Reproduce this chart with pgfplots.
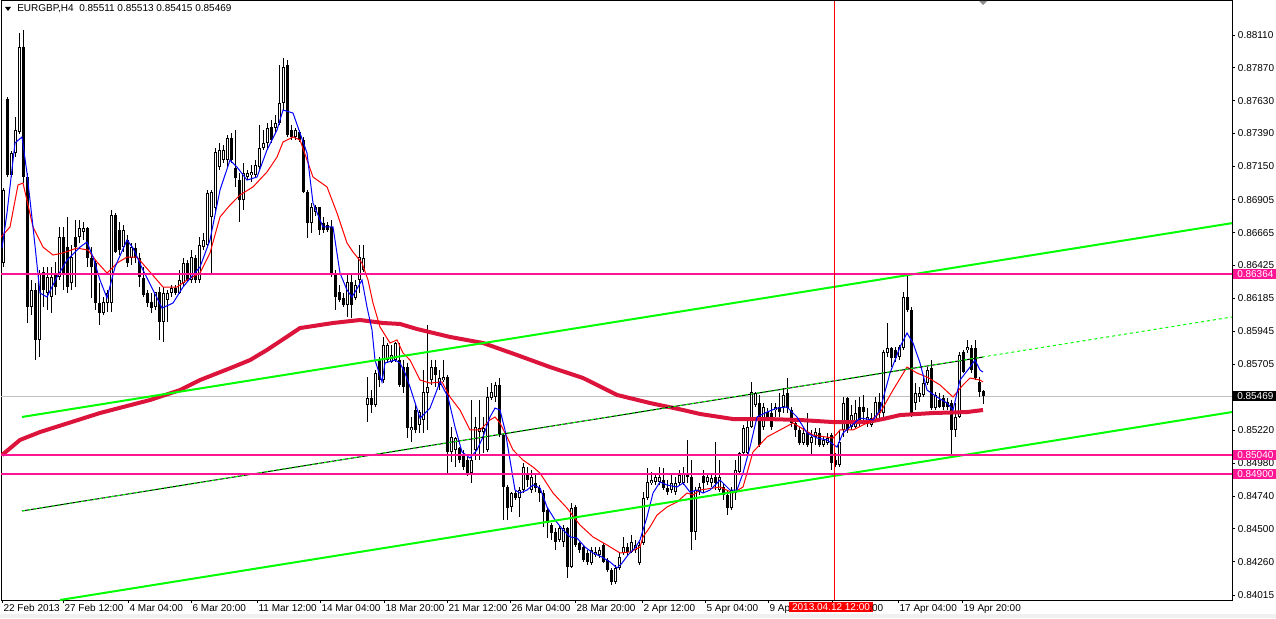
\documentclass[border=0pt]{standalone}
\usepackage{pgfplots}
\pgfplotsset{compat=1.18}
\usepackage{pgfplotstable}
\usepackage{fontspec}
\setmainfont{Liberation Sans}
\definecolor{mtpink}{RGB}{255,20,147}
\definecolor{mtcrimson}{RGB}{220,20,60}
\definecolor{mtgreen}{RGB}{0,255,0}
\definecolor{mtgray}{RGB}{192,192,192}
\definecolor{mtblue}{RGB}{0,0,255}
\definecolor{mtred}{RGB}{255,0,0}

\pgfplotstableread{
x o h l c
3 0.86443 0.86992 0.86414 0.86977
7 0.87642 0.87657 0.87072 0.87087
11 0.87087 0.87262 0.87072 0.87248
15 0.87248 0.87511 0.87218 0.87416
19 0.87401 0.88125 0.87386 0.88022
23 0.88022 0.88147 0.87028 0.87072
27 0.87072 0.87101 0.86005 0.86122
31 0.86122 0.86319 0.86063 0.86246
35 0.86246 0.86297 0.85734 0.85881
39 0.85881 0.86392 0.85756 0.86370
43 0.86378 0.86414 0.86122 0.86246
47 0.86224 0.86414 0.86100 0.86341
51 0.86195 0.86414 0.86078 0.86341
55 0.86370 0.86451 0.86209 0.86268
59 0.86341 0.86707 0.86319 0.86633
63 0.86633 0.86707 0.86246 0.86370
67 0.86560 0.86780 0.86224 0.86268
71 0.86297 0.86575 0.86246 0.86487
75 0.86633 0.86758 0.86268 0.86560
79 0.86633 0.86758 0.86590 0.86699
83 0.86670 0.86743 0.86612 0.86699
87 0.86699 0.86707 0.86414 0.86480
91 0.86480 0.86560 0.86188 0.86414
95 0.86443 0.86465 0.86100 0.86151
99 0.86151 0.86297 0.85990 0.86078
103 0.86078 0.86195 0.86063 0.86158
107 0.86151 0.86246 0.86085 0.86224
111 0.86151 0.86831 0.86085 0.86794
115 0.86794 0.86809 0.86517 0.86524
119 0.86685 0.86743 0.86502 0.86538
123 0.86560 0.86721 0.86524 0.86685
127 0.86612 0.86648 0.86414 0.86443
131 0.86480 0.86590 0.86429 0.86560
135 0.86553 0.86590 0.86443 0.86480
139 0.86480 0.86517 0.86268 0.86341
143 0.86334 0.86414 0.86195 0.86209
147 0.86224 0.86246 0.86122 0.86151
151 0.86158 0.86224 0.86078 0.86114
155 0.86122 0.86231 0.86100 0.86231
159 0.86231 0.86268 0.85881 0.86012
163 0.86012 0.86268 0.85866 0.86224
167 0.86173 0.86246 0.86012 0.86224
171 0.86224 0.86283 0.86195 0.86261
175 0.86261 0.86283 0.86209 0.86224
179 0.86224 0.86392 0.86217 0.86319
183 0.86297 0.86480 0.86268 0.86443
187 0.86443 0.86465 0.86305 0.86319
191 0.86319 0.86538 0.86297 0.86487
195 0.86480 0.86502 0.86297 0.86319
199 0.86319 0.86633 0.86297 0.86575
203 0.86560 0.86663 0.86538 0.86612
207 0.86575 0.86977 0.86560 0.86955
211 0.86780 0.86977 0.86370 0.86963
215 0.86845 0.87284 0.86809 0.87255
219 0.87145 0.87321 0.87123 0.87270
223 0.87196 0.87306 0.87175 0.87270
227 0.87196 0.87379 0.87145 0.87357
231 0.87357 0.87394 0.87175 0.87196
235 0.87138 0.87416 0.87000 0.87065
239 0.87050 0.87101 0.86743 0.86904
243 0.86904 0.87175 0.86831 0.87101
247 0.87072 0.87123 0.87050 0.87101
251 0.87087 0.87160 0.87036 0.87109
255 0.87087 0.87196 0.87072 0.87160
259 0.87145 0.87452 0.87123 0.87284
263 0.87284 0.87416 0.87270 0.87321
267 0.87321 0.87467 0.87270 0.87430
271 0.87438 0.87489 0.87321 0.87343
275 0.87430 0.87525 0.87401 0.87467
279 0.87467 0.87891 0.87452 0.87613
283 0.87613 0.87942 0.87562 0.87876
287 0.87891 0.87927 0.87365 0.87379
291 0.87416 0.87452 0.87343 0.87365
295 0.87365 0.87430 0.87343 0.87416
299 0.87401 0.87416 0.87328 0.87343
303 0.87343 0.87365 0.86955 0.86963
307 0.86963 0.86977 0.86626 0.86736
311 0.86736 0.86882 0.86663 0.86853
315 0.86816 0.86867 0.86787 0.86853
319 0.86853 0.86853 0.86648 0.86685
323 0.86736 0.86780 0.86663 0.86685
327 0.86721 0.86743 0.86670 0.86685
331 0.86707 0.86758 0.86341 0.86370
335 0.86370 0.86392 0.86100 0.86195
339 0.86231 0.86283 0.86158 0.86173
343 0.86188 0.86224 0.86122 0.86136
347 0.86136 0.86370 0.86049 0.86305
351 0.86305 0.86356 0.86041 0.86136
355 0.86188 0.86319 0.86173 0.86283
359 0.86319 0.86575 0.86224 0.86487
363 0.86392 0.86575 0.86378 0.86480
367 0.85405 0.85610 0.85281 0.85457
371 0.85457 0.85515 0.85347 0.85405
375 0.85405 0.85661 0.85391 0.85639
379 0.85734 0.85756 0.85537 0.85588
383 0.85588 0.85903 0.85566 0.85844
387 0.85734 0.85859 0.85713 0.85844
391 0.85720 0.85844 0.85713 0.85771
395 0.85734 0.85866 0.85720 0.85859
399 0.85734 0.85859 0.85537 0.85552
403 0.85683 0.85734 0.85493 0.85537
407 0.85683 0.85713 0.85164 0.85237
411 0.85223 0.85318 0.85135 0.85245
415 0.85369 0.85405 0.85201 0.85223
419 0.85259 0.85369 0.85201 0.85354
423 0.85296 0.85661 0.85201 0.85500
427 0.85493 0.85990 0.85223 0.85537
431 0.85588 0.85734 0.85552 0.85683
435 0.85683 0.85734 0.85537 0.85625
439 0.85552 0.85661 0.85515 0.85603
443 0.85588 0.85734 0.85574 0.85610
447 0.85610 0.85625 0.84908 0.85062
451 0.85062 0.85245 0.84989 0.85172
455 0.85077 0.85172 0.84952 0.85164
459 0.85091 0.85098 0.84982 0.85003
463 0.85040 0.85077 0.84930 0.84952
467 0.85003 0.85025 0.84886 0.84908
471 0.84908 0.85442 0.84835 0.85003
475 0.85077 0.85318 0.85003 0.85245
479 0.85208 0.85442 0.85003 0.85237
483 0.85208 0.85318 0.85055 0.85237
487 0.85077 0.85537 0.85062 0.85464
491 0.85457 0.85566 0.85442 0.85500
495 0.85464 0.85574 0.85427 0.85552
499 0.85552 0.85603 0.85172 0.85186
503 0.85186 0.85201 0.84565 0.84806
507 0.84806 0.84821 0.84565 0.84652
511 0.84660 0.84769 0.84623 0.84762
515 0.84762 0.84784 0.84711 0.84726
519 0.84726 0.84806 0.84587 0.84784
523 0.84784 0.84982 0.84762 0.84952
527 0.84908 0.84952 0.84806 0.84857
531 0.84784 0.84930 0.84762 0.84879
535 0.84835 0.84894 0.84769 0.84799
539 0.84799 0.84821 0.84696 0.84762
543 0.84762 0.84784 0.84514 0.84623
547 0.84638 0.84660 0.84433 0.84543
551 0.84528 0.84543 0.84419 0.84470
555 0.84477 0.84506 0.84345 0.84404
559 0.84419 0.84528 0.84404 0.84506
563 0.84404 0.84528 0.84367 0.84506
567 0.84506 0.84514 0.84141 0.84221
571 0.84221 0.84689 0.84214 0.84652
575 0.84660 0.84674 0.84367 0.84382
579 0.84397 0.84404 0.84324 0.84345
583 0.84367 0.84382 0.84258 0.84272
587 0.84324 0.84345 0.84236 0.84258
591 0.84250 0.84367 0.84236 0.84345
595 0.84309 0.84367 0.84294 0.84331
599 0.84309 0.84367 0.84287 0.84345
603 0.84382 0.84397 0.84250 0.84258
607 0.84272 0.84287 0.84185 0.84199
611 0.84199 0.84214 0.84090 0.84112
615 0.84112 0.84236 0.84097 0.84214
619 0.84214 0.84324 0.84199 0.84294
623 0.84324 0.84441 0.84309 0.84367
627 0.84367 0.84397 0.84309 0.84331
631 0.84331 0.84455 0.84324 0.84404
635 0.84345 0.84419 0.84324 0.84382
639 0.84250 0.84404 0.84236 0.84382
643 0.84397 0.84769 0.84382 0.84726
647 0.84726 0.84945 0.84711 0.84843
651 0.84835 0.84916 0.84821 0.84857
655 0.84843 0.84908 0.84821 0.84879
659 0.84843 0.84952 0.84821 0.84879
663 0.84857 0.84945 0.84784 0.84799
667 0.84799 0.84857 0.84748 0.84769
671 0.84784 0.84908 0.84762 0.84835
675 0.84769 0.84879 0.84748 0.84835
679 0.84835 0.84930 0.84821 0.84894
683 0.84835 0.84952 0.84821 0.84908
687 0.84908 0.85150 0.84835 0.84879
691 0.84879 0.85003 0.84345 0.84477
695 0.84477 0.84806 0.84419 0.84784
699 0.84769 0.84835 0.84748 0.84806
703 0.84886 0.84930 0.84762 0.84835
707 0.84843 0.84908 0.84821 0.84879
711 0.84835 0.84894 0.84806 0.84872
715 0.84879 0.85135 0.84784 0.84835
719 0.84784 0.85003 0.84769 0.84879
723 0.84806 0.84835 0.84711 0.84748
727 0.84748 0.84784 0.84601 0.84652
731 0.84652 0.84806 0.84638 0.84784
735 0.84762 0.85003 0.84711 0.84930
739 0.84916 0.85062 0.84908 0.85055
743 0.85055 0.85259 0.85040 0.85237
747 0.85055 0.85296 0.85025 0.85245
751 0.85245 0.85574 0.85237 0.85500
755 0.85405 0.85500 0.85391 0.85493
759 0.85420 0.85479 0.85098 0.85113
763 0.85245 0.85420 0.85223 0.85391
767 0.85354 0.85383 0.85296 0.85318
771 0.85347 0.85420 0.85223 0.85245
775 0.85369 0.85420 0.85318 0.85391
779 0.85391 0.85493 0.85318 0.85354
783 0.85391 0.85530 0.85347 0.85479
787 0.85493 0.85603 0.85347 0.85383
791 0.85369 0.85391 0.85245 0.85274
795 0.85274 0.85296 0.85172 0.85223
799 0.85223 0.85245 0.85113 0.85128
803 0.85128 0.85237 0.85113 0.85201
807 0.85201 0.85347 0.85098 0.85113
811 0.85128 0.85223 0.85040 0.85172
815 0.85172 0.85237 0.85113 0.85208
819 0.85201 0.85237 0.85098 0.85113
823 0.85113 0.85172 0.85098 0.85150
827 0.85128 0.85201 0.85113 0.85164
831 0.85186 0.85201 0.84930 0.84982
835 0.85003 0.85055 0.84952 0.84967
839 0.84967 0.85223 0.84952 0.85135
843 0.85223 0.85464 0.85172 0.85420
847 0.85457 0.85464 0.85201 0.85223
851 0.85245 0.85405 0.85223 0.85332
855 0.85245 0.85442 0.85237 0.85347
859 0.85391 0.85464 0.85245 0.85296
863 0.85391 0.85479 0.85296 0.85354
867 0.85281 0.85383 0.85245 0.85318
871 0.85259 0.85347 0.85245 0.85310
875 0.85296 0.85464 0.85281 0.85427
879 0.85427 0.85493 0.85296 0.85347
883 0.85347 0.85808 0.85318 0.85793
887 0.85786 0.86005 0.85756 0.85822
891 0.85822 0.85829 0.85683 0.85749
895 0.85808 0.85829 0.85720 0.85749
899 0.85756 0.85844 0.85734 0.85829
903 0.85822 0.86231 0.85808 0.86195
907 0.86195 0.86356 0.86085 0.86100
911 0.86100 0.86122 0.85318 0.85347
915 0.85420 0.85566 0.85369 0.85493
919 0.85464 0.85537 0.85427 0.85493
923 0.85479 0.85610 0.85464 0.85566
927 0.85566 0.85683 0.85552 0.85661
931 0.85676 0.85734 0.85369 0.85383
935 0.85383 0.85500 0.85369 0.85479
939 0.85442 0.85493 0.85383 0.85391
943 0.85457 0.85479 0.85369 0.85391
947 0.85427 0.85457 0.85369 0.85391
951 0.85420 0.85442 0.85040 0.85223
955 0.85223 0.85420 0.85172 0.85318
959 0.85318 0.85793 0.85310 0.85771
963 0.85793 0.85808 0.85639 0.85647
967 0.85808 0.85881 0.85786 0.85829
971 0.85822 0.85844 0.85639 0.85661
975 0.85822 0.85881 0.85588 0.85603
979 0.85574 0.85610 0.85464 0.85500
983 0.85511 0.85513 0.85415 0.85469
}\candles

\begin{document}
\begin{tikzpicture}[x=0.75pt,y=0.75pt,font=\fontsize{7.5}{9}\selectfont]
\useasboundingbox (0,0) rectangle (1276,618);
\fill[white] (0,0) rectangle (1276,618);
\fill[black!6] (0,0) rectangle (1276,4);
\begin{axis}[
  at={(0.75pt,462.75pt)}, anchor=north west,
  scale only axis, width=923.25pt, height=449.25pt,
  xmin=1, xmax=1232, ymin=0.83980, ymax=0.88359,
  axis line style={black, line width=0.75pt},
  tick style={black, line width=0.75pt},
  tick align=outside, major tick length=2.25pt,
  xtick pos=left, ytick pos=right, yticklabel pos=right,
  xtick={2,63,128,191,257,320,384,447,510,575,642,705,768,832,898,962},
  xticklabels={22 Feb 2013,27 Feb 12:00,4 Mar 04:00,6 Mar 20:00,11 Mar 12:00,14 Mar 04:00,18 Mar 20:00,21 Mar 12:00,26 Mar 04:00,28 Mar 20:00,2 Apr 12:00,5 Apr 04:00,9 Apr,{},17 Apr 04:00,19 Apr 20:00},
  ytick={0.84015,0.84260,0.84500,0.84740,0.84980,0.85220,0.85460,0.85705,0.85945,0.86185,0.86425,0.86665,0.86905,0.87150,0.87390,0.87630,0.87870,0.88110},
  yticklabels={0.84015,0.84260,0.84500,0.84740,0.84980,0.85220,{},0.85705,0.85945,0.86185,0.86425,0.86665,0.86905,0.87150,0.87390,0.87630,0.87870,0.88110},
  xticklabel style={anchor=north west, inner sep=0pt, xshift=1pt, yshift=-1pt, font=\fontsize{7.5}{9}\selectfont},
  yticklabel style={anchor=west, inner sep=0pt, xshift=2pt, font=\fontsize{7.5}{9}\selectfont},
  clip=true,
]
% current price line
\addplot[mtgray, line width=0.75pt] coordinates {(1,0.85469) (1232,0.85469)};
% candle wicks
\addplot[draw=none, no markers, forget plot,
  error bars/.cd, y dir=both, y explicit, error mark=none,
  error bar style={draw=black, line width=0.75pt, line cap=butt}]
  table[x=x, y expr={(\thisrow{h}+\thisrow{l})/2}, y error expr={(\thisrow{h}-\thisrow{l})/2}] {\candles};
% candle bodies
\addplot[draw=none, no markers, forget plot,
  error bars/.cd, y dir=both, y explicit, error mark=none,
  error bar style={draw=black, line width=2.25pt, line cap=butt}]
  table[x=x, y expr={(\thisrow{o}+\thisrow{c})/2}, y error expr={max(abs(\thisrow{c}-\thisrow{o})/2,0.00004)}] {\candles};
% hollow inside of bullish bodies
\addplot[draw=none, no markers, forget plot,
  error bars/.cd, y dir=both, y explicit, error mark=none,
  error bar style={draw=white, line width=0.75pt, line cap=butt}]
  table[x=x, y expr={(\thisrow{o}+\thisrow{c})/2}, y error expr={(\thisrow{c}>\thisrow{o})*max((\thisrow{c}-\thisrow{o})/2-0.00007,0)}] {\candles};
% slow MA (thick crimson)
\addplot[mtcrimson, line width=3pt] coordinates {
(2,0.85040)(20,0.85150)(40,0.85208)(100,0.85347)(150,0.85442)(180,0.85515)(200,0.85588)(233,0.85683)(250,0.85734)(267,0.85808)(300,0.85968)(333,0.86005)(360,0.86027)(383,0.86005)(400,0.85998)(417,0.85961)(450,0.85903)(483,0.85859)(517,0.85771)(550,0.85683)(583,0.85603)(617,0.85479)(650,0.85420)(683,0.85369)(700,0.85340)(733,0.85303)(767,0.85303)(800,0.85296)(833,0.85281)(867,0.85281)(883,0.85303)(900,0.85332)(933,0.85347)(967,0.85354)(983,0.85369)};
% middle MA (red)
\addplot[mtred, line width=0.75pt] coordinates {
(1,0.86633)(10,0.86707)(18,0.87014)(23,0.87028)(33,0.86707)(43,0.86560)(53,0.86502)(63,0.86517)(77,0.86553)(88,0.86538)(97,0.86451)(107,0.86370)(117,0.86443)(127,0.86487)(137,0.86487)(150,0.86378)(163,0.86268)(177,0.86268)(187,0.86319)(200,0.86370)(210,0.86517)(220,0.86780)(230,0.86867)(240,0.86941)(253,0.87000)(267,0.87109)(277,0.87218)(283,0.87328)(293,0.87365)(300,0.87343)(313,0.87072)(327,0.87000)(337,0.86809)(347,0.86590)(353,0.86524)(362,0.86443)(368,0.86319)(373,0.86151)(380,0.85976)(390,0.85859)(397,0.85881)(403,0.85786)(410,0.85734)(420,0.85588)(430,0.85566)(442,0.85574)(450,0.85464)(460,0.85369)(470,0.85223)(480,0.85223)(490,0.85296)(495,0.85318)(500,0.85274)(507,0.85172)(513,0.85077)(523,0.85003)(533,0.84952)(540,0.84908)(553,0.84762)(567,0.84652)(580,0.84528)(593,0.84441)(607,0.84382)(620,0.84324)(630,0.84331)(640,0.84367)(643,0.84441)(650,0.84514)(657,0.84601)(667,0.84660)(677,0.84696)(687,0.84762)(693,0.84748)(700,0.84784)(720,0.84806)(733,0.84762)(743,0.84806)(753,0.85062)(767,0.85172)(780,0.85223)(793,0.85274)(813,0.85186)(833,0.85164)(840,0.85223)(853,0.85223)(867,0.85274)(880,0.85347)(893,0.85515)(907,0.85683)(917,0.85639)(927,0.85610)(940,0.85552)(953,0.85464)(963,0.85552)(970,0.85603)(980,0.85588)(983,0.85574)};
% fast MA (blue)
\addplot[mtblue, line width=0.75pt] coordinates {
(2,0.86553)(7,0.86809)(15,0.87321)(22,0.87365)(27,0.87101)(33,0.86707)(40,0.86224)(47,0.86195)(57,0.86341)(67,0.86465)(80,0.86560)(87,0.86597)(93,0.86487)(100,0.86319)(107,0.86188)(115,0.86414)(127,0.86612)(133,0.86553)(143,0.86392)(153,0.86246)(162,0.86114)(173,0.86151)(183,0.86268)(193,0.86356)(200,0.86414)(210,0.86612)(220,0.86977)(230,0.87196)(237,0.87145)(247,0.87050)(257,0.87072)(267,0.87270)(277,0.87416)(283,0.87562)(293,0.87540)(300,0.87394)(307,0.87248)(313,0.86882)(323,0.86707)(333,0.86707)(340,0.86370)(347,0.86246)(352,0.86195)(358,0.86268)(362,0.86319)(367,0.86122)(372,0.85954)(375,0.85734)(382,0.85574)(385,0.85713)(395,0.85734)(400,0.85713)(405,0.85639)(410,0.85537)(420,0.85310)(430,0.85383)(440,0.85574)(448,0.85464)(455,0.85245)(462,0.85062)(470,0.85018)(477,0.85077)(483,0.85172)(490,0.85318)(495,0.85383)(500,0.85369)(505,0.85223)(510,0.85003)(515,0.84784)(520,0.84762)(527,0.84784)(533,0.84821)(540,0.84799)(547,0.84660)(555,0.84565)(563,0.84492)(570,0.84441)(577,0.84433)(585,0.84367)(593,0.84324)(602,0.84294)(610,0.84258)(617,0.84214)(622,0.84250)(628,0.84309)(635,0.84360)(640,0.84419)(647,0.84587)(653,0.84762)(660,0.84843)(667,0.84821)(677,0.84806)(683,0.84835)(690,0.84769)(697,0.84784)(703,0.84762)(710,0.84784)(720,0.84857)(730,0.84784)(737,0.84784)(743,0.84908)(750,0.85098)(757,0.85318)(767,0.85354)(777,0.85383)(787,0.85391)(797,0.85318)(807,0.85201)(817,0.85164)(827,0.85150)(837,0.85098)(843,0.85201)(850,0.85245)(860,0.85310)(873,0.85296)(880,0.85369)(890,0.85639)(900,0.85829)(907,0.85932)(913,0.85859)(920,0.85713)(927,0.85515)(937,0.85464)(947,0.85420)(953,0.85369)(960,0.85588)(970,0.85683)(975,0.85734)(980,0.85661)(983,0.85647)};
% trend channel
\addplot[mtgreen, line width=1.5pt] coordinates {(22,0.85318) (1232,0.86735)};
\addplot[mtgreen, line width=1.5pt] coordinates {(60,0.83980) (1232,0.85354)};
\addplot[black, line width=0.75pt] coordinates {(22,0.84631) (983,0.85756)};
\addplot[mtgreen, line width=0.75pt, dash pattern=on 2.25pt off 2.25pt] coordinates {(22,0.84631) (1232,0.86049)};
% horizontal levels
\addplot[mtpink, line width=1.5pt] coordinates {(1,0.86364) (1232,0.86364)};
\addplot[mtpink, line width=1.5pt] coordinates {(1,0.85040) (1232,0.85040)};
\addplot[mtpink, line width=1.5pt] coordinates {(1,0.84900) (1232,0.84900)};
% vertical cursor line
\addplot[mtred, line width=0.75pt] coordinates {(834,0.83980) (834,0.88359)};
\coordinate (L1) at (axis cs:1232,0.86364);
\coordinate (L2) at (axis cs:1232,0.85469);
\coordinate (L3) at (axis cs:1232,0.85040);
\coordinate (L4) at (axis cs:1232,0.84900);
\coordinate (D) at (axis cs:831,0.83980);
\coordinate (E) at (axis cs:869,0.83980);
\end{axis}
\node[anchor=west, fill=mtpink, text=white, inner xsep=3pt, inner ysep=1.2pt] at ([xshift=0.75pt]L1) {0.86364};
\node[anchor=west, fill=black, text=white, inner xsep=3pt, inner ysep=1.2pt] at ([xshift=0.75pt]L2) {0.85469};
\node[anchor=west, fill=mtpink, text=white, inner xsep=3pt, inner ysep=1.2pt] at ([xshift=0.75pt]L3) {0.85040};
\node[anchor=west, fill=mtpink, text=white, inner xsep=3pt, inner ysep=1.2pt] at ([xshift=0.75pt]L4) {0.84900};
\node[anchor=north, fill=mtred, text=white, inner xsep=2pt, inner ysep=1.2pt] at ([yshift=-1.2pt]D) {2013.04.12 12:00};
\node[anchor=north west, inner sep=0pt] at ([yshift=-3pt]E) {:00};
% title
\fill[black] (5,611) -- (11,611) -- (8,607) -- cycle;
\node[anchor=west, inner sep=0pt] at (17,609) {EURGBP,H4\ \ 0.85511 0.85513 0.85415 0.85469};
\fill[black!45] (979,617) -- (987,617) -- (983,613) -- cycle;
\end{tikzpicture}
\end{document}
